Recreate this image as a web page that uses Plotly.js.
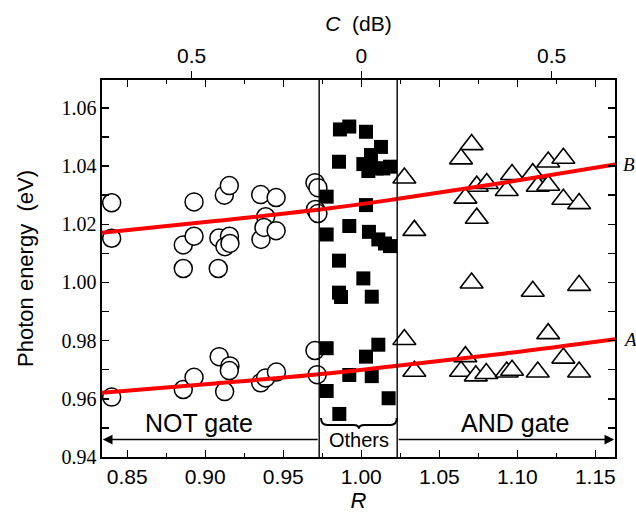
<!DOCTYPE html>
<html>
<head>
<meta charset="utf-8">
<script src="https://cdn.plot.ly/plotly-3.0.1.min.js"></script>
<style>
  html, body { margin: 0; padding: 0; background: #fff; }
  #chart { width: 636px; height: 513px; }
</style>
</head>
<body>
<div id="chart"></div>
<script>
// NOT gate samples (open circles)
const notR = [0.8400, 0.8400, 0.8859, 0.8928, 0.8928, 0.8859, 0.9083, 0.9122, 0.9154, 0.9355, 0.9454,
              0.9703, 0.9722, 0.9706, 0.9722, 0.9087, 0.9155, 0.9126, 0.9158, 0.9357, 0.9387, 0.9376, 0.9454,
              0.8400, 0.8859, 0.8928, 0.9089, 0.9158, 0.9154, 0.9124, 0.9355, 0.9387, 0.9456, 0.9703, 0.9717];
const notE = [1.0274, 1.0152, 1.0129, 1.0159, 1.0277, 1.0048, 1.0048, 1.0300, 1.0333, 1.0302, 1.0292,
              1.0343, 1.0326, 1.0251, 1.0237, 1.0153, 1.0159, 1.0123, 1.0134, 1.0148, 1.0226, 1.0189, 1.0178,
              0.9606, 0.9632, 0.9674, 0.9745, 0.9713, 0.9697, 0.9625, 0.9655, 0.9672, 0.9692, 0.9766, 0.9683];

// Other samples (filled squares)
const othR = [0.9863, 0.9923, 1.0030, 1.0126, 0.9857, 1.0062, 1.0013, 1.0045, 1.0099, 1.0141, 1.0184,
              0.9778, 1.0030, 0.9923, 0.9778, 1.0049, 1.0109, 1.0152, 1.0184, 0.9857, 1.0013, 0.9857,
              0.9870, 1.0067, 0.9778, 1.0109, 1.0030, 1.0067, 0.9923, 0.9778, 1.0175, 0.9859];
const othE = [1.0526, 1.0536, 1.0518, 1.0466, 1.0415, 1.0438, 1.0407, 1.0383, 1.0392, 1.0392, 1.0398,
              1.0295, 1.0266, 1.0194, 1.0165, 1.0174, 1.0148, 1.0134, 1.0125, 1.0075, 1.0014, 0.9965,
              0.9950, 0.9951, 0.9774, 0.9786, 0.9745, 0.9678, 0.9682, 0.9627, 0.9602, 0.9548];

// AND gate samples (open triangles)
const andR = [1.0276, 1.0707, 1.0639, 1.0740, 1.0804, 1.0667, 1.0740, 1.0340, 1.0966, 1.0932, 1.1099,
              1.1131, 1.1198, 1.1198, 1.1295, 1.1295, 1.1396,
              1.0707, 1.1099, 1.1396, 1.0276, 1.1198, 1.0667, 1.0340, 1.0639, 1.0734, 1.0801, 1.0932,
              1.0966, 1.1131, 1.1295, 1.1396];
const andE = [1.0359, 1.0474, 1.0425, 1.0331, 1.0340, 1.0290, 1.0221, 1.0179, 1.0371, 1.0316, 1.0374,
              1.0331, 1.0334, 1.0414, 1.0427, 1.0286, 1.0271,
              0.9998, 0.9970, 0.9990, 0.9804, 0.9824, 0.9745, 0.9695, 0.9695, 0.9679, 0.9687, 0.9692,
              0.9698, 0.9692, 0.9740, 0.9692];

// Trend curves A and B
const curveR = [0.8338, 0.9062, 0.9799, 1.0216, 1.0921, 1.1626];
const curveA = [0.9621, 0.9653, 0.9688, 0.9713, 0.9756, 0.9805];
const curveB = [1.0171, 1.0211, 1.0255, 1.0286, 1.0344, 1.0406];

// Top axis: contrast C in dB, C = |10 log10 R|
const cTickDb = [-0.5, 0, 0.5];
const cTickText = ['0.5', '0', '0.5'];

// Region boundaries and labels
const othersBounds = [0.973, 1.023];
const regionLabels = ['NOT gate', 'Others', 'AND gate'];

const xRange = [0.8338, 1.1626];
const yRange = [0.94, 1.0696];

const SANS = 'Liberation Sans, Arial, sans-serif';
const SERIF = 'Liberation Serif, Times New Roman, serif';

const traces = [
  { x: notR, y: notE, type: 'scatter', mode: 'markers', hoverinfo: 'skip',
    marker: { symbol: 'circle', size: 18, color: '#ffffff', line: { color: '#000', width: 1.5 } } },
  { x: othR, y: othE, type: 'scatter', mode: 'markers', hoverinfo: 'skip',
    marker: { symbol: 'square', size: 14, color: '#000000', line: { width: 0 } } },
  { x: andR, y: andE, type: 'scatter', mode: 'markers', hoverinfo: 'skip',
    marker: { symbol: 'triangle-up', size: 20, color: '#ffffff', line: { color: '#000', width: 1.6 } } },
  { x: curveR, y: curveA, type: 'scatter', mode: 'lines', hoverinfo: 'skip',
    line: { color: '#ff0000', width: 4, shape: 'spline' } },
  { x: curveR, y: curveB, type: 'scatter', mode: 'lines', hoverinfo: 'skip',
    line: { color: '#ff0000', width: 4, shape: 'spline' } },
  // anchors the top dB axis
  { x: [], y: [], xaxis: 'x2', yaxis: 'y', type: 'scatter', mode: 'markers', hoverinfo: 'skip' }
];

const arrowY = 0.9460;
const braceTop = 0.9534, braceMid = 0.9510, braceTip = 0.9497;
const bL = 0.9742, bR = 1.0227, bC = (bL + bR) / 2;
const bracePath = `M${bL},${braceTop} Q${bL},${braceMid} ${bL + 0.004},${braceMid} ` +
  `L${bC - 0.0035},${braceMid} Q${bC},${braceMid} ${bC},${braceTip} ` +
  `Q${bC},${braceMid} ${bC + 0.0035},${braceMid} ` +
  `L${bR - 0.004},${braceMid} Q${bR},${braceMid} ${bR},${braceTop}`;

const layout = {
  width: 636, height: 513,
  margin: { l: 102, r: 21, t: 80, b: 56 },
  paper_bgcolor: '#fff', plot_bgcolor: '#fff',
  showlegend: false,
  font: { family: SANS, color: '#000' },
  xaxis: {
    range: xRange, showgrid: false, zeroline: false,
    showline: true, linecolor: '#000', linewidth: 1.6, mirror: 'ticks',
    ticks: 'inside', ticklen: 7, tickwidth: 1.5, tickcolor: '#000',
    tick0: 0.85, dtick: 0.05, tickformat: '.2f',
    tickfont: { family: SANS, size: 21 },
    minor: { ticks: 'inside', ticklen: 4, tickwidth: 1.5, tickcolor: '#000', dtick: 0.025, tick0: 0.85 },
    title: { text: '<i>R</i>', font: { family: SANS, size: 22 }, standoff: 2 }
  },
  xaxis2: {
    overlaying: 'x', side: 'top', anchor: 'y',
    range: xRange, showgrid: false, zeroline: false, showline: false,
    tickmode: 'array', tickvals: cTickDb.map(d => Math.pow(10, d / 10)), ticktext: cTickText,
    ticks: 'outside', ticklen: 8, tickwidth: 1.5, tickcolor: '#000',
    tickfont: { family: SANS, size: 21 },
    title: { text: '<i>C</i>  (dB)', font: { family: SANS, size: 21 }, standoff: 6 }
  },
  yaxis: {
    range: yRange, showgrid: false, zeroline: false,
    showline: true, linecolor: '#000', linewidth: 1.6, mirror: 'ticks',
    ticks: 'inside', ticklen: 7, tickwidth: 1.5, tickcolor: '#000',
    tick0: 0.94, dtick: 0.02, tickformat: '.2f',
    tickfont: { family: SERIF, size: 20 },
    minor: { ticks: 'inside', ticklen: 7, tickwidth: 1.5, tickcolor: '#000', dtick: 0.01, tick0: 0.94 },
    title: { text: 'Photon energy  (eV)', font: { family: SANS, size: 22 }, standoff: 22 }
  },
  shapes: [
    { type: 'line', xref: 'x', yref: 'paper', x0: othersBounds[0], x1: othersBounds[0], y0: 0, y1: 1,
      line: { color: '#000', width: 1.4 } },
    { type: 'line', xref: 'x', yref: 'paper', x0: othersBounds[1], x1: othersBounds[1], y0: 0, y1: 1,
      line: { color: '#000', width: 1.4 } },
    { type: 'path', xref: 'x', yref: 'y', path: bracePath, line: { color: '#000', width: 2 } }
  ],
  annotations: [
    { xref: 'x', yref: 'y', x: xRange[0] + 0.0005, y: arrowY, ax: othersBounds[0], ay: arrowY,
      axref: 'x', ayref: 'y', text: '', showarrow: true, arrowhead: 2, arrowsize: 1.3, arrowwidth: 1.5,
      arrowcolor: '#000' },
    { xref: 'x', yref: 'y', x: xRange[1] - 0.0005, y: arrowY, ax: othersBounds[1], ay: arrowY,
      axref: 'x', ayref: 'y', text: '', showarrow: true, arrowhead: 2, arrowsize: 1.3, arrowwidth: 1.5,
      arrowcolor: '#000' },
    { xref: 'x', yref: 'y', x: 0.896, y: 0.9517, text: regionLabels[0], showarrow: false,
      font: { family: SANS, size: 25 } },
    { xref: 'x', yref: 'y', x: bC, y: 0.9458, text: regionLabels[1], showarrow: false,
      font: { family: SANS, size: 20 } },
    { xref: 'x', yref: 'y', x: 1.0986, y: 0.9517, text: regionLabels[2], showarrow: false,
      font: { family: SANS, size: 25 } },
    { xref: 'paper', yref: 'y', x: 1.012, xanchor: 'left', y: curveB[curveB.length - 1], text: '<i>B</i>',
      showarrow: false, font: { family: SERIF, size: 19 } },
    { xref: 'paper', yref: 'y', x: 1.012, xanchor: 'left', y: curveA[curveA.length - 1], text: '<i>A</i>',
      showarrow: false, font: { family: SERIF, size: 19 } }
  ]
};

Plotly.newPlot('chart', traces, layout, { staticPlot: true, displayModeBar: false });
</script>
</body>
</html>
